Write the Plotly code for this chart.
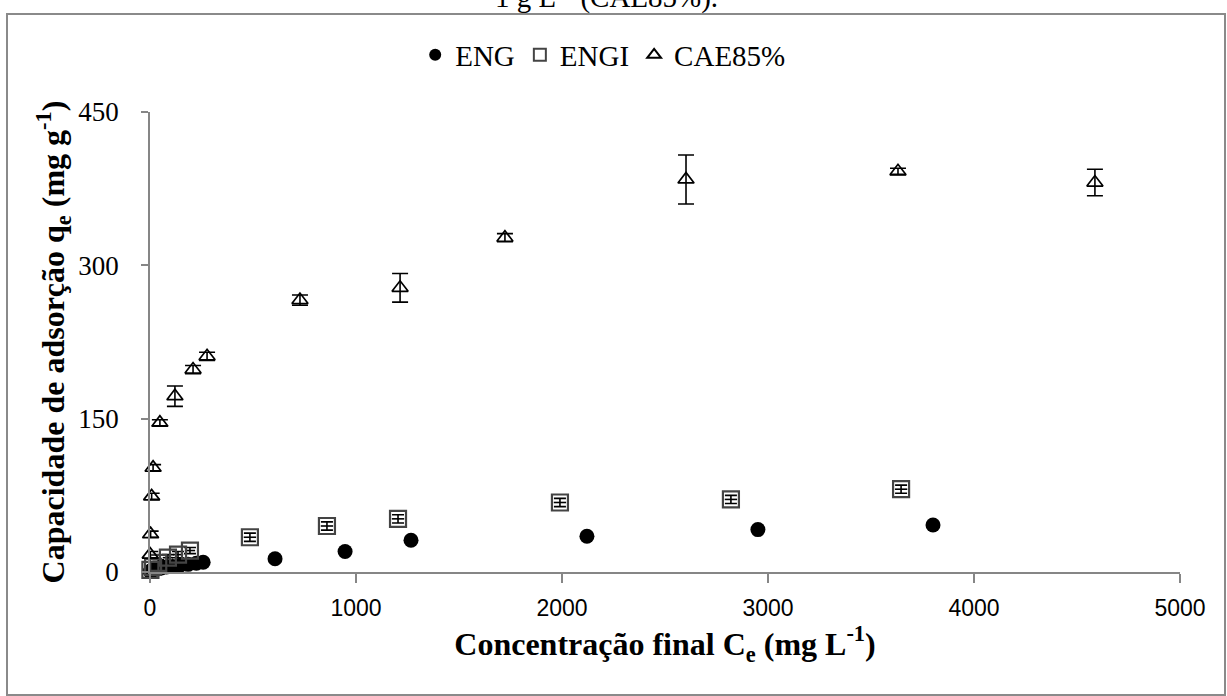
import plotly.graph_objects as go

# Final concentration Ce (mg/L) and adsorption capacity qe (mg/g)
eng_ce = [1, 4, 10, 20, 35, 55, 80, 110, 145, 185, 225, 258, 607, 947, 1267, 2121, 2951, 3801]
eng_qe = [0.5, 1, 2, 2.5, 3, 4, 5, 5.5, 6.5, 7.5, 8.5, 9.5, 13, 20, 31, 35, 41.5, 46]

engi_ce = [2, 15, 40, 87, 136, 194, 485, 859, 1204, 1990, 2820, 3646]
engi_qe = [2, 5, 9, 14, 17, 21, 34, 45, 52, 68, 71, 81]
engi_err = [3, 3, 3, 3, 3, 3, 4, 4, 4, 4, 4, 4]
engi_xerr = [25, 25, 25, 25, 25, 25, 30, 30, 30, 30, 30, 30]

cae_ce = [1, 3, 8, 15, 48, 121, 209, 277, 728, 1214, 1723, 2602, 3631, 4587]
cae_qe = [17, 37, 74, 102, 146, 172, 198, 211, 266, 278, 327, 384, 392, 381]
cae_err = [3, 3, 3, 3, 3, 10, 4, 4, 5, 14, 4, 24, 3, 13]

x_ticks = [0, 1000, 2000, 3000, 4000, 5000]
y_ticks = [0, 150, 300, 450]

SERIF = "Liberation Serif, Times New Roman, serif"
SANS = "Liberation Sans, Arial, sans-serif"

fig = go.Figure()

fig.add_trace(go.Scatter(
    x=eng_ce, y=eng_qe, mode="markers", name="ENG", cliponaxis=False,
    marker=dict(symbol="circle", size=15, color="#000000",
                line=dict(color="#000000", width=0)),
))

fig.add_trace(go.Scatter(
    x=engi_ce, y=engi_qe, mode="markers", name="ENGI", cliponaxis=False,
    marker=dict(symbol="square-open", size=16, color="#444444",
                line=dict(color="#444444", width=2.2)),
    error_y=dict(type="data", array=engi_err, visible=True,
                 color="#000000", thickness=1.6, width=6),
    error_x=dict(type="data", array=engi_xerr, visible=True,
                 color="#000000", thickness=1.6, width=0),
))

fig.add_trace(go.Scatter(
    x=cae_ce, y=cae_qe, mode="markers", name="CAE85%", cliponaxis=False,
    marker=dict(symbol="triangle-up-open", size=14, color="#000000",
                line=dict(color="#000000", width=1.7)),
    error_y=dict(type="data", array=cae_err, visible=True,
                 color="#000000", thickness=1.6, width=8),
))

fig.update_layout(
    width=1227, height=696,
    margin=dict(l=150, r=47, t=112, b=124, pad=0),
    paper_bgcolor="white", plot_bgcolor="white",
    showlegend=True,
    legend=dict(
        orientation="h", x=0.44, xanchor="center", y=1.124, yanchor="middle",
        font=dict(family=SERIF, size=29, color="#000000"),
        itemsizing="constant", bgcolor="rgba(0,0,0,0)", traceorder="normal",
    ),
    xaxis=dict(
        range=[0, 5000], tickvals=x_ticks, ticktext=[str(v) for v in x_ticks],
        showgrid=False, zeroline=False, showline=True,
        linecolor="#868686", linewidth=1.5,
        ticks="outside", ticklen=9, tickwidth=1.5, tickcolor="#868686",
        tickfont=dict(family=SANS, size=23, color="#000000"),
        ticklabelstandoff=6, automargin=False,
        title=dict(text="<b>Concentração final C<sub>e</sub> (mg L<sup>-1</sup>)</b>",
                   font=dict(family=SERIF, size=32, color="#000000"), standoff=12),
    ),
    yaxis=dict(
        range=[0, 450], tickvals=y_ticks, ticktext=[str(v) for v in y_ticks],
        showgrid=False, zeroline=False, showline=True,
        linecolor="#868686", linewidth=1.5,
        ticks="outside", ticklen=7, tickwidth=1.5, tickcolor="#868686",
        tickfont=dict(family=SERIF, size=27, color="#000000"),
        ticklabelstandoff=17, automargin=False,
        title=dict(text="<b>Capacidade de adsorção q<sub>e</sub> (mg g<sup>-1</sup>)</b>",
                   font=dict(family=SERIF, size=32, color="#000000"), standoff=4),
    ),
)

# Outer frame around the chart
fig.add_shape(type="rect", xref="paper", yref="paper",
              x0=(7 - 150) / 1030, x1=(1225 - 150) / 1030,
              y0=(572 - 695) / 460, y1=(572 - 14) / 460,
              line=dict(color="#8a8a8a", width=2), fillcolor="rgba(0,0,0,0)",
              layer="below")

# Caption line above the frame
fig.add_annotation(
    text="1 g L<sup>-1</sup> (CAE85%).", xref="paper", yref="paper",
    x=(606 - 150) / 1030, y=(572 + 4) / 460, xanchor="center", yanchor="middle",
    showarrow=False, font=dict(family=SERIF, size=29, color="#000000"),
)

fig.write_html("out.html")
